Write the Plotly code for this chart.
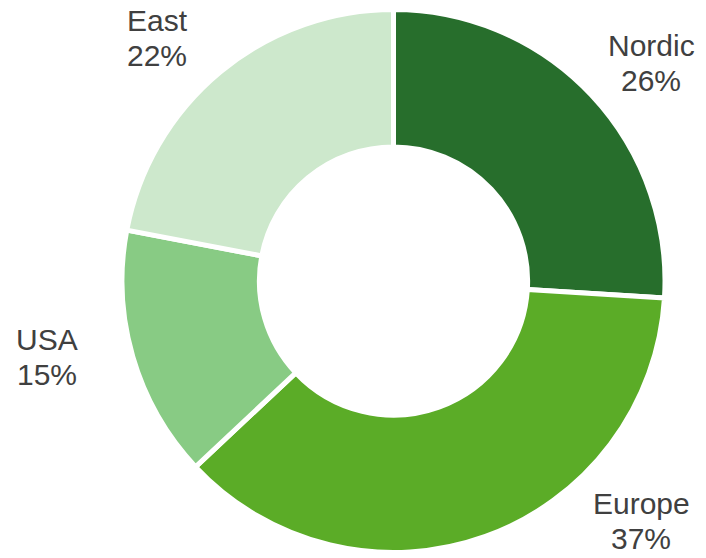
import plotly.graph_objects as go

# Regional share of total (percent)
regions = ["Nordic", "Europe", "USA", "East"]
shares = [26, 37, 15, 22]
colors = ["#276E2C", "#5BAC27", "#88CB84", "#CDE8CC"]

W, H = 706, 558

# Label block centres in pixels (layout only)
label_pos = {
    "Nordic": (651, 63),
    "Europe": (641, 521),
    "USA": (47, 357),
    "East": (157, 38),
}
LINE_GAP = 35

fig = go.Figure(
    go.Pie(
        labels=regions,
        values=shares,
        hole=0.494,
        sort=False,
        direction="clockwise",
        rotation=0,
        textinfo="none",
        hoverinfo="label+percent",
        marker=dict(colors=colors, line=dict(color="white", width=5)),
        domain=dict(x=[122 / W, 665 / W], y=[5.5 / H, 548.5 / H]),
        showlegend=False,
    )
)

annotations = []
for name, val in zip(regions, shares):
    cx, cy = label_pos[name]
    for text, dy in ((name, -LINE_GAP / 2), (f"{val}%", LINE_GAP / 2)):
        annotations.append(
            dict(
                text=text,
                x=cx / W,
                y=1 - (cy + dy) / H,
                xref="paper",
                yref="paper",
                xanchor="center",
                yanchor="middle",
                showarrow=False,
                font=dict(family="Liberation Sans, Arial, sans-serif", size=30, color="#404040"),
            )
        )

fig.update_layout(
    width=W,
    height=H,
    margin=dict(l=0, r=0, t=0, b=0),
    paper_bgcolor="white",
    plot_bgcolor="white",
    annotations=annotations,
)

fig.write_html("out.html")
